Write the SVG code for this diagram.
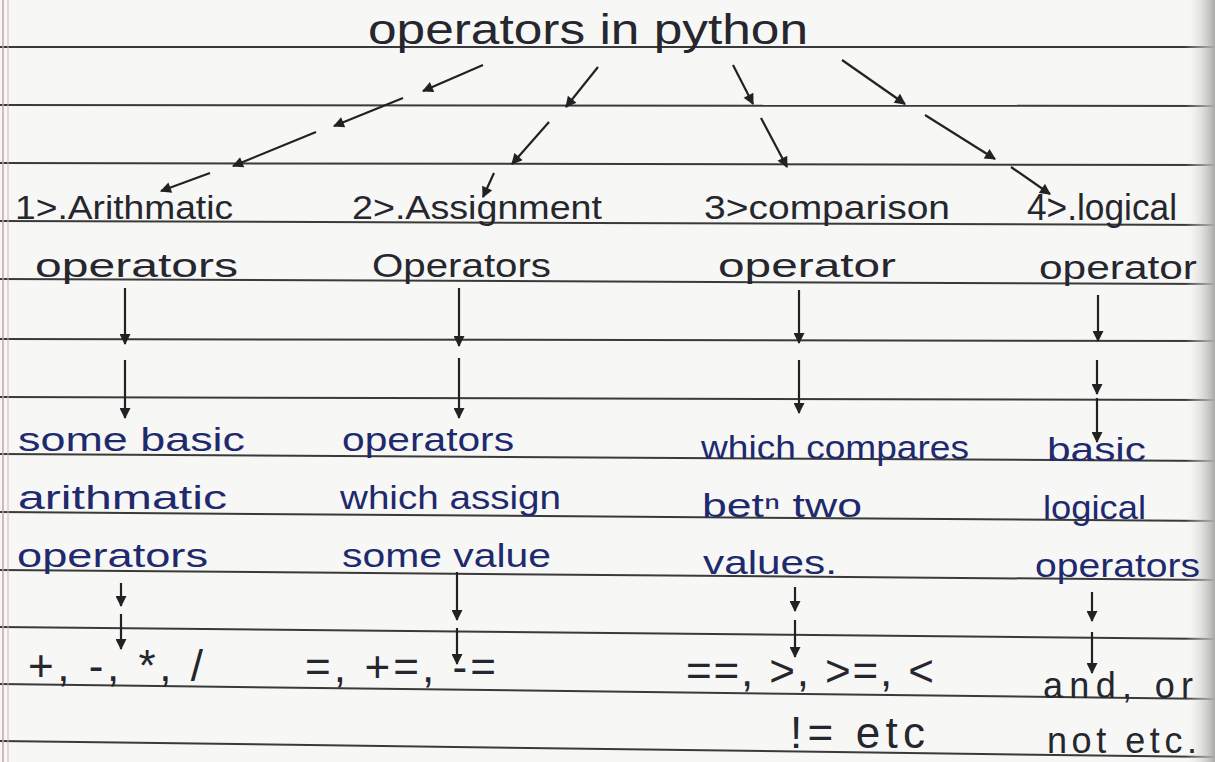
<svg xmlns="http://www.w3.org/2000/svg" width="1215" height="762" viewBox="0 0 1215 762">
<defs>
<style>
.rule{stroke:#3a3a3a;stroke-width:2;fill:none}
.ink{font-family:"Liberation Sans","DejaVu Sans",sans-serif;fill:#26262e}
.blue{font-family:"Liberation Sans","DejaVu Sans",sans-serif;fill:#1f2a6e}
.t{font-size:42px}
.h{font-size:33px}
.d{font-size:34px}
.e{font-size:44px}
.e2{font-size:36px}
.arr{stroke:#222;stroke-width:2.2;fill:none;marker-end:url(#ah)}
</style>
<marker id="ah" viewBox="0 0 10 10" refX="9" refY="5" markerWidth="13" markerHeight="11" markerUnits="userSpaceOnUse" orient="auto">
<path d="M0,0 L10,5 L0,10 z" fill="#222"/>
</marker>
<linearGradient id="shade" x1="0" y1="0" x2="1" y2="0">
<stop offset="0" stop-color="#f6f6f4" stop-opacity="0"/>
<stop offset="1" stop-color="#a9a9a6"/>
</linearGradient>
</defs>
<rect x="0" y="0" width="1215" height="762" fill="#f7f7f5"/>
<g id="paper">
<line class="rule" x1="0" y1="47" x2="1215" y2="47"/>
<line class="rule" x1="0" y1="105" x2="1215" y2="106"/>
<line class="rule" x1="0" y1="163" x2="1215" y2="165"/>
<line class="rule" x1="0" y1="221" x2="1215" y2="225"/>
<line class="rule" x1="0" y1="279" x2="1215" y2="284"/>
<line class="rule" x1="0" y1="339" x2="1215" y2="341"/>
<line class="rule" x1="0" y1="397" x2="1215" y2="400"/>
<line class="rule" x1="0" y1="454" x2="1215" y2="461"/>
<line class="rule" x1="0" y1="512" x2="1215" y2="521"/>
<line class="rule" x1="0" y1="570" x2="1215" y2="580"/>
<line class="rule" x1="0" y1="627" x2="1215" y2="639"/>
<line class="rule" x1="0" y1="684" x2="1215" y2="699"/>
<line class="rule" x1="0" y1="741" x2="1215" y2="757"/>
<line x1="3" y1="0" x2="3" y2="762" stroke="#c8a2aa" stroke-width="1.5"/>
<line x1="8" y1="0" x2="8" y2="762" stroke="#d4b3b9" stroke-width="1"/>
<rect x="1185" y="0" width="30" height="762" fill="url(#shade)"/>
</g>
<g id="connectors">
<line class="arr" x1="483" y1="65" x2="423" y2="91"/>
<line class="arr" x1="403" y1="98" x2="334" y2="126"/>
<line class="arr" x1="316" y1="132" x2="233" y2="166"/>
<line class="arr" x1="210" y1="173" x2="161" y2="191"/>
<line class="arr" x1="598" y1="67" x2="566" y2="107"/>
<line class="arr" x1="549" y1="122" x2="512" y2="164"/>
<line class="arr" x1="494" y1="173" x2="483" y2="197"/>
<line class="arr" x1="733" y1="65" x2="753" y2="104"/>
<line class="arr" x1="761" y1="118" x2="787" y2="167"/>
<line class="arr" x1="842" y1="60" x2="905" y2="104"/>
<line class="arr" x1="925" y1="115" x2="995" y2="159"/>
<line class="arr" x1="1011" y1="167" x2="1050" y2="194"/>
<line class="arr" x1="125" y1="288" x2="125" y2="344"/>
<line class="arr" x1="125" y1="360" x2="125" y2="418"/>
<line class="arr" x1="459" y1="288" x2="459" y2="346"/>
<line class="arr" x1="459" y1="358" x2="459" y2="418"/>
<line class="arr" x1="799" y1="290" x2="799" y2="343"/>
<line class="arr" x1="799" y1="360" x2="799" y2="413"/>
<line class="arr" x1="1098" y1="295" x2="1098" y2="341"/>
<line class="arr" x1="1097" y1="360" x2="1097" y2="394"/>
<line class="arr" x1="1097" y1="398" x2="1097" y2="442"/>
<line class="arr" x1="121" y1="583" x2="121" y2="606"/>
<line class="arr" x1="121" y1="614" x2="121" y2="649"/>
<line class="arr" x1="457" y1="572" x2="457" y2="620"/>
<line class="arr" x1="457" y1="628" x2="457" y2="664"/>
<line class="arr" x1="795" y1="587" x2="795" y2="611"/>
<line class="arr" x1="795" y1="620" x2="795" y2="657"/>
<line class="arr" x1="1092" y1="592" x2="1092" y2="621"/>
<line class="arr" x1="1092" y1="632" x2="1092" y2="673"/>
</g>
<g id="title">
<text class="ink t" x="368" y="44" textLength="440" lengthAdjust="spacingAndGlyphs">operators in python</text>
</g>
<g id="arithmetic">
<text class="ink h" x="15" y="219" textLength="218" lengthAdjust="spacingAndGlyphs">1&gt;.Arithmatic</text>
<text class="ink h" x="35" y="277" textLength="203" lengthAdjust="spacingAndGlyphs">operators</text>
</g>
<g id="assignment">
<text class="ink h" x="352" y="219" textLength="250" lengthAdjust="spacingAndGlyphs">2&gt;.Assignment</text>
<text class="ink h" x="372" y="277" textLength="179" lengthAdjust="spacingAndGlyphs">Operators</text>
</g>
<g id="comparison">
<text class="ink h" x="704" y="219" textLength="246" lengthAdjust="spacingAndGlyphs">3&gt;comparison</text>
<text class="ink h" x="718" y="277" textLength="178" lengthAdjust="spacingAndGlyphs">operator</text>
</g>
<g id="logical">
<text class="ink h" x="1027" y="220" textLength="150" lengthAdjust="spacingAndGlyphs" style="font-size:36px">4&gt;.logical</text>
<text class="ink h" x="1039" y="279" textLength="158" lengthAdjust="spacingAndGlyphs">operator</text>
</g>
<g id="arithmetic-desc">
<text class="blue d" x="18" y="451" textLength="227" lengthAdjust="spacingAndGlyphs">some basic</text>
<text class="blue d" x="18" y="509" textLength="209" lengthAdjust="spacingAndGlyphs">arithmatic</text>
<text class="blue d" x="17" y="567" textLength="191" lengthAdjust="spacingAndGlyphs">operators</text>
</g>
<g id="assignment-desc">
<text class="blue d" x="342" y="451" textLength="172" lengthAdjust="spacingAndGlyphs">operators</text>
<text class="blue d" x="340" y="509" textLength="221" lengthAdjust="spacingAndGlyphs">which assign</text>
<text class="blue d" x="342" y="567" textLength="209" lengthAdjust="spacingAndGlyphs">some value</text>
</g>
<g id="comparison-desc">
<text class="blue d" x="701" y="459" textLength="268" lengthAdjust="spacingAndGlyphs">which compares</text>
<text class="blue d" x="702" y="517" textLength="160" lengthAdjust="spacingAndGlyphs">betⁿ two</text>
<text class="blue d" x="703" y="574" textLength="134" lengthAdjust="spacingAndGlyphs">values.</text>
</g>
<g id="logical-desc">
<text class="blue d" x="1047" y="461" textLength="99" lengthAdjust="spacingAndGlyphs">basic</text>
<text class="blue d" x="1043" y="519" textLength="103" lengthAdjust="spacingAndGlyphs">logical</text>
<text class="blue d" x="1035" y="577" textLength="165" lengthAdjust="spacingAndGlyphs">operators</text>
</g>
<g id="arithmetic-ex">
<text class="ink e" x="28" y="681" textLength="175" lengthAdjust="spacing">+, -, *, /</text>
</g>
<g id="assignment-ex">
<text class="ink e" x="305" y="682" textLength="191" lengthAdjust="spacing">=, +=, -=</text>
</g>
<g id="comparison-ex">
<text class="ink e" x="686" y="686" textLength="248" lengthAdjust="spacing">==, &gt;, &gt;=, &lt;</text>
<text class="ink e" x="790" y="748" textLength="135" lengthAdjust="spacing">!= etc</text>
</g>
<g id="logical-ex">
<text class="ink e2" x="1043" y="698" textLength="150" lengthAdjust="spacing">and, or</text>
<text class="ink e2" x="1047" y="753" textLength="150" lengthAdjust="spacing">not etc.</text>
</g>
</svg>
